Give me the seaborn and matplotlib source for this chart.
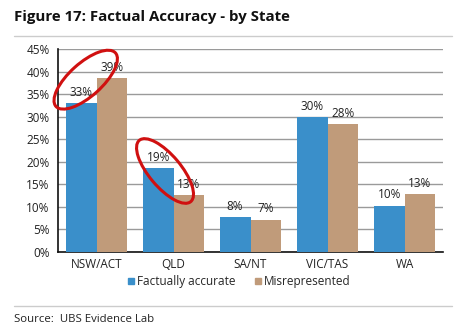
import matplotlib
matplotlib.use("Agg")
import matplotlib.pyplot as plt
import seaborn as sns
import pandas as pd
from matplotlib.patches import Ellipse
from matplotlib.lines import Line2D
from matplotlib.transforms import IdentityTransform

categories = ["NSW/ACT", "QLD", "SA/NT", "VIC/TAS", "WA"]
factually_accurate = [33.1, 18.6, 7.7, 30.0, 10.3]
misrepresented = [38.6, 12.6, 7.2, 28.4, 12.8]
series_names = ["Factually accurate", "Misrepresented"]
y_ticks = [0, 5, 10, 15, 20, 25, 30, 35, 40, 45]

colors = {"Factually accurate": "#3A8FCA", "Misrepresented": "#C09B7A"}

df = pd.DataFrame({
    "State": categories * 2,
    "Series": [series_names[0]] * len(categories) + [series_names[1]] * len(categories),
    "Value": factually_accurate + misrepresented,
})

sns.set_theme(style="white")
plt.rcParams['font.family'] = ['Open Sans', 'DejaVu Sans']

W, H = 461, 336
fig = plt.figure(figsize=(W / 100, H / 100), dpi=100)
ax = fig.add_axes([58 / W, (H - 252) / H, (443 - 58) / W, (252 - 49) / H])

sns.barplot(data=df, x="State", y="Value", hue="Series", palette=colors,
            saturation=1, linewidth=0, width=0.8, ax=ax, legend=False, zorder=3)

ax.set_ylim(0, 45)
ax.set_yticks(y_ticks)
ax.set_yticklabels([f"{t}%" for t in y_ticks], fontsize=8.5, color="#222222")
ax.tick_params(axis="x", labelsize=8.5, colors="#222222", length=0, pad=4)
ax.tick_params(axis="y", length=0, pad=6)
ax.set_xlabel("")
ax.set_ylabel("")
ax.yaxis.grid(True, color="#9a9a9a", linewidth=1, zorder=0)
ax.set_axisbelow(True)
for s in ["top", "right"]:
    ax.spines[s].set_visible(False)
for s in ["left", "bottom"]:
    ax.spines[s].set_color("#111111")
    ax.spines[s].set_linewidth(1.2)

for cont in ax.containers:
    ax.bar_label(cont, labels=[f"{b.get_height():.0f}%" for b in cont],
                 fontsize=8.5, color="#222222", padding=3)

# legend
handles = [Line2D([0], [0], marker="s", linestyle="", markersize=4.5,
                  markerfacecolor=colors[n], markeredgecolor=colors[n]) for n in series_names]
fig.legend(handles, series_names, loc="center", bbox_to_anchor=(238 / W, 1 - 282 / H),
           ncol=2, frameon=False, fontsize=8.5, handletextpad=0.1, columnspacing=1.5,
           borderpad=0, handlelength=0.8)

# title, separators, source
fig.text(14 / W, 1 - 17 / H, "Figure 17: Factual Accuracy - by State", fontsize=10.8,
         fontweight="bold", color="#111111", va="center", ha="left")
for yy in (36, 306):
    fig.add_artist(Line2D([14 / W, 452 / W], [1 - yy / H, 1 - yy / H],
                          color="#cccccc", linewidth=1))
fig.text(14 / W, 1 - 319 / H, "Source:  UBS Evidence Lab", fontsize=8.2,
         color="#222222", va="center", ha="left")

# red highlight ellipses (annotations)
fig.canvas.draw()
def ell(xd, yd, w, h, ang):
    cx, cy = ax.transData.transform((xd, yd))
    e = Ellipse((cx, cy), w, h, angle=ang, transform=IdentityTransform(),
                fill=False, edgecolor="#D01010", linewidth=2.2, zorder=10)
    fig.add_artist(e)

ell(-0.14, 38.2, 80, 33, 42)
ell(0.89, 17.96, 80, 32, -50)

fig.savefig("out.png", dpi=100)
